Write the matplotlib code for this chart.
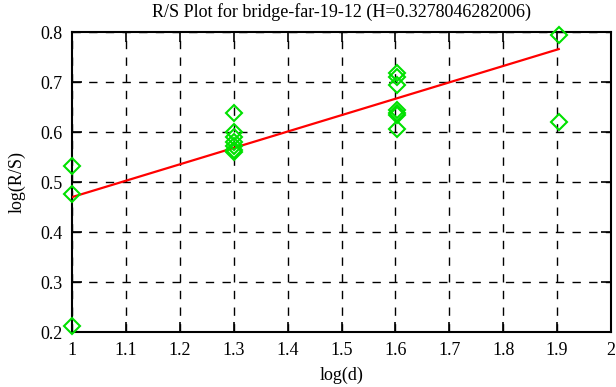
import numpy as np
import matplotlib.pyplot as plt

plt.rcParams['font.family'] = ['Liberation Serif', 'DejaVu Serif']
plt.rcParams['font.size'] = 13

# 数据：log(d) 与 log(R/S)
log_d = [1.0, 1.0, 1.0,
         1.30103, 1.30103, 1.30103, 1.30103, 1.30103, 1.30103, 1.30103,
         1.60206, 1.60206, 1.60206, 1.60206, 1.60206, 1.60206, 1.60206,
         1.90309, 1.90309]
log_rs = [0.213, 0.477, 0.533,
          0.638, 0.600, 0.590, 0.580, 0.573, 0.565, 0.560,
          0.718, 0.710, 0.695, 0.645, 0.638, 0.634, 0.607,
          0.795, 0.620]

H = 0.3278046282006
intercept = 0.142
fit_x = [1.0, 1.90309]

fig = plt.figure(figsize=(6.16, 3.87), dpi=100)
ax = fig.add_axes([0.1169, 0.1421, 0.8750, 0.7752])

fx = np.array(fit_x)
ax.plot(fx, H * fx + intercept, color='#ff0000', linewidth=1.6, zorder=3)
ax.plot(log_d, log_rs, linestyle='none', marker='D', markersize=8,
        markerfacecolor='none', markeredgecolor='#00e000', markeredgewidth=1.5,
        zorder=4, clip_on=False)

ax.set_xlim(1, 2)
ax.set_ylim(0.2, 0.8)
ax.set_xticks(np.arange(1.0, 2.01, 0.1))
ax.set_xticklabels(['1', '1.1', '1.2', '1.3', '1.4', '1.5', '1.6', '1.7', '1.8', '1.9', '2'])
ax.set_yticks(np.arange(0.2, 0.81, 0.1))
ax.set_yticklabels(['0.2', '0.3', '0.4', '0.5', '0.6', '0.7', '0.8'])

ax.grid(True, color='black', linestyle=(0, (6, 6)), linewidth=1)
ax.tick_params(direction='in', length=7, width=1.2, top=True, right=True, pad=7)
for s in ax.spines.values():
    s.set_linewidth(1.5)

ax.set_xlabel('log(d)', labelpad=6)
ax.set_ylabel('log(R/S)', labelpad=10)
ax.set_title('R/S Plot for bridge-far-19-12 (H=0.3278046282006)', fontsize=13, pad=11)

plt.savefig('out.png', dpi=100)
